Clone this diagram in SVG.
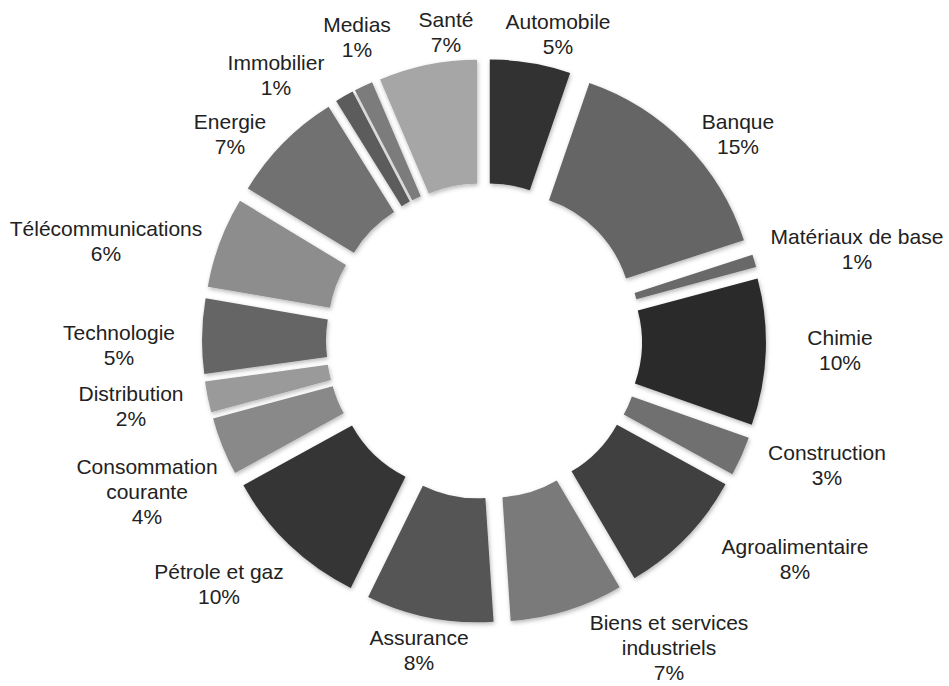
<svg xmlns="http://www.w3.org/2000/svg" width="949" height="686" viewBox="0 0 949 686">
<style>
.s{fill:none;stroke-width:124}
.slice{filter:url(#sh)}
text{font-family:"Liberation Sans",Arial,sans-serif;font-size:21px;fill:#222;text-anchor:middle}
</style>
<defs>
<filter id="sh" x="-20%" y="-20%" width="140%" height="140%">
<feDropShadow dx="1" dy="2" stdDeviation="2" flood-color="#000" flood-opacity="0.28"/>
</filter>
</defs>
<rect width="949" height="686" fill="#fff"/>
<g id="connectors"></g>
<g transform="translate(484,341)">
<g id="automobile" class="slice"><circle class="s" r="185" stroke="#333333" stroke-dasharray="61.35 2000" transform="rotate(9.5) translate(0,-35) rotate(-99.5)"/></g>
<g id="banque" class="slice"><circle class="s" r="185" stroke="#656565" stroke-dasharray="171.13 2000" transform="rotate(45.5) translate(0,-35) rotate(-116.5)"/></g>
<g id="materiaux" class="slice"><circle class="s" r="185" stroke="#696969" stroke-dasharray="9.69 2000" transform="rotate(73.5) translate(0,-35) rotate(-91.5)"/></g>
<g id="chimie" class="slice"><circle class="s" r="185" stroke="#2b2b2b" stroke-dasharray="111.4 2000" transform="rotate(92.25) translate(0,-35) rotate(-107.25)"/></g>
<g id="construction" class="slice"><circle class="s" r="185" stroke="#6f6f6f" stroke-dasharray="30.03 2000" transform="rotate(114.15) translate(0,-35) rotate(-94.65)"/></g>
<g id="agroalimentaire" class="slice"><circle class="s" r="185" stroke="#3f3f3f" stroke-dasharray="99.13 2000" transform="rotate(134.15) translate(0,-35) rotate(-105.35)"/></g>
<g id="biens" class="slice"><circle class="s" r="185" stroke="#7a7a7a" stroke-dasharray="86.21 2000" transform="rotate(162.85) translate(0,-35) rotate(-103.35)"/></g>
<g id="assurance" class="slice"><circle class="s" r="185" stroke="#555555" stroke-dasharray="96.87 2000" transform="rotate(191.2) translate(0,-35) rotate(-105)"/></g>
<g id="petrole" class="slice"><circle class="s" r="185" stroke="#353535" stroke-dasharray="113.01 2000" transform="rotate(223.7) translate(0,-35) rotate(-107.5)"/></g>
<g id="consommation" class="slice"><circle class="s" r="185" stroke="#898989" stroke-dasharray="44.24 2000" transform="rotate(248.05) translate(0,-35) rotate(-96.85)"/></g>
<g id="distribution" class="slice"><circle class="s" r="185" stroke="#9a9a9a" stroke-dasharray="23.57 2000" transform="rotate(258.55) translate(0,-35) rotate(-93.65)"/></g>
<g id="technologie" class="slice"><circle class="s" r="185" stroke="#656565" stroke-dasharray="56.83 2000" transform="rotate(271) translate(0,-35) rotate(-98.8)"/></g>
<g id="telecom" class="slice"><circle class="s" r="185" stroke="#8d8d8d" stroke-dasharray="69.1 2000" transform="rotate(290.5) translate(0,-35) rotate(-100.7)"/></g>
<g id="energie" class="slice"><circle class="s" r="185" stroke="#717171" stroke-dasharray="86.86 2000" transform="rotate(314.65) translate(0,-35) rotate(-103.45)"/></g>
<g id="immobilier" class="slice"><circle class="s" r="185" stroke="#5b5b5b" stroke-dasharray="14.21 2000" transform="rotate(330.3) translate(0,-35) rotate(-92.2)"/></g>
<g id="medias" class="slice"><circle class="s" r="185" stroke="#7c7c7c" stroke-dasharray="14.21 2000" transform="rotate(334.7) translate(0,-35) rotate(-92.2)"/></g>
<g id="sante" class="slice"><circle class="s" r="185" stroke="#a6a6a6" stroke-dasharray="74.59 2000" transform="rotate(348.45) translate(0,-35) rotate(-101.55)"/></g>
</g>
<g id="labels">
<text x="357" y="32">Medias<tspan x="357" dy="25">1%</tspan></text>
<text x="446" y="27">Santé<tspan x="446" dy="25">7%</tspan></text>
<text x="558" y="29">Automobile<tspan x="558" dy="25">5%</tspan></text>
<text x="276" y="70">Immobilier<tspan x="276" dy="25">1%</tspan></text>
<text x="230" y="129">Energie<tspan x="230" dy="25">7%</tspan></text>
<text x="738" y="129">Banque<tspan x="738" dy="25">15%</tspan></text>
<text x="106" y="236">Télécommunications<tspan x="106" dy="25">6%</tspan></text>
<text x="857" y="244">Matériaux de base<tspan x="857" dy="25">1%</tspan></text>
<text x="119" y="340">Technologie<tspan x="119" dy="25">5%</tspan></text>
<text x="840" y="345">Chimie<tspan x="840" dy="25">10%</tspan></text>
<text x="131" y="401">Distribution<tspan x="131" dy="25">2%</tspan></text>
<text x="827" y="460">Construction<tspan x="827" dy="25">3%</tspan></text>
<text x="147" y="474">Consommation<tspan x="147" dy="25">courante</tspan><tspan x="147" dy="25">4%</tspan></text>
<text x="795" y="554">Agroalimentaire<tspan x="795" dy="25">8%</tspan></text>
<text x="219" y="579">Pétrole et gaz<tspan x="219" dy="25">10%</tspan></text>
<text x="419" y="645">Assurance<tspan x="419" dy="25">8%</tspan></text>
<text x="669" y="630">Biens et services<tspan x="669" dy="25">industriels</tspan><tspan x="669" dy="25">7%</tspan></text>
</g>
</svg>
